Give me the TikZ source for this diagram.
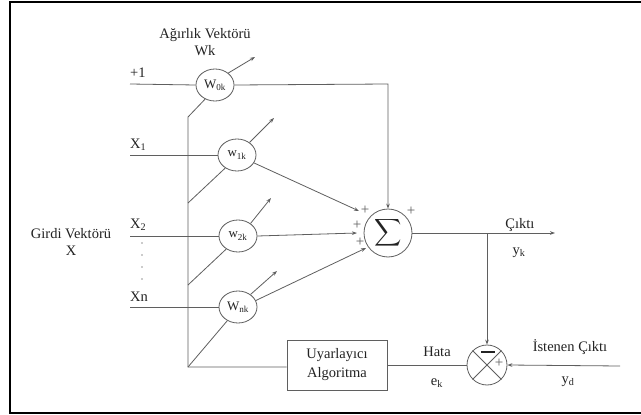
\documentclass[tikz,border=0pt]{standalone}
\usepackage{fontspec}
\setmainfont{Liberation Serif}
\usetikzlibrary{arrows.meta,shapes.geometric}
\definecolor{wire}{RGB}{95,95,95}
\definecolor{ink}{RGB}{35,35,35}
\tikzset{
  wire/.style={draw=wire,line width=0.8pt},
  arr/.style={wire,-{Stealth[length=5pt,width=3.6pt]}},
  weight/.style={ellipse,draw=wire,line width=0.8pt,minimum width=38pt,minimum height=32pt,inner sep=0pt,font=\fontsize{13}{13}\selectfont,text=ink},
  lbl/.style={font=\fontsize{14.5}{17}\selectfont,text=ink,inner sep=0pt},
  pl/.style={font=\fontsize{15}{15}\selectfont,text=wire,inner sep=0pt},
}
\begin{document}
\begin{tikzpicture}[x=1pt,y=-1pt]
\useasboundingbox (0,0) rectangle (641,415);
\fill[white] (0,0) rectangle (641,415);
% frame
\draw[line width=2.6pt,black] (645,2) -- (10,2) -- (10,413) -- (645,413);

% weight nodes
\node[weight] (w0) at (215,85) {W\textsubscript{0k}};
\node[weight] (w1) at (237,155) {w\textsubscript{1k}};
\node[weight] (w2) at (238,236) {w\textsubscript{2k}};
\node[weight] (wn) at (238,307) {W\textsubscript{nk}};

% summation and comparator
\node[circle,draw=wire,line width=0.8pt,minimum size=48pt,inner sep=0pt,text=ink] (sum) at (388,233) {\scalebox{1.9}{$\displaystyle\sum$}};
\node[circle,draw=wire,line width=0.8pt,minimum size=40pt,inner sep=0pt] (cmp) at (487,365) {};
\draw[wire] (cmp.45) -- (cmp.225) (cmp.135) -- (cmp.315);
\draw[ink,line width=2pt] (481,352) -- (495,352);
\node[pl] at (499,363) {+};

% adaptation box
\node[draw=wire,line width=0.8pt,minimum width=100pt,minimum height=50pt,align=center,font=\fontsize{14.5}{19}\selectfont,text=ink] (alg) at (337,365) {Uyarlayıcı\\Algoritma};

% input lines
\coordinate (i0) at (130,84);
\coordinate (i1) at (130,155);
\coordinate (i2) at (130,236);
\coordinate (in) at (130,307);
\draw[wire] (i0) -- (w0.west);
\draw[wire] (i1) -- (w1.west);
\draw[wire] (i2) -- (w2.west);
\draw[wire] (in) -- (wn.west);

% bus from the adaptation algorithm to the weights
\coordinate (b0) at (188,117);
\coordinate (b1) at (188,203);
\coordinate (b2) at (188,285);
\coordinate (bn) at (188,367);
\draw[wire] (alg.west |- bn) -- (bn) -- (b0) -- (w0.235);
\draw[wire] (b1) -- (w1.228);
\draw[wire] (b2) -- (w2.228);
\draw[wire] (bn) -- (wn.232);

% adjustment arrows on the weights
\coordinate (a0) at (255,57);
\coordinate (a1) at (274,118);
\coordinate (a2) at (271,198);
\coordinate (an) at (277,271);
\draw[arr] (w0.42) -- (a0);
\draw[arr] (w1.45) -- (a1);
\draw[arr] (w2.45) -- (a2);
\draw[arr] (wn.45) -- (an);

% weighted signals into the summation
\coordinate (t0) at (388,84);
\coordinate (s1) at (359,211);
\coordinate (s2) at (357,233);
\coordinate (sn) at (366,248);
\draw[arr] (w0.east) -- (t0) -- (sum.north);
\draw[arr] (w1.-25) -- (s1);
\draw[arr] (w2.east) -- (s2);
\draw[arr] (wn.20) -- (sn);

% plus signs at the summation
\node[pl] at (365,210) {+};
\node[pl] at (357,225) {+};
\node[pl] at (360,242) {+};
\node[pl] at (411,211) {+};

% output and error path
\coordinate (out) at (555,233);
\coordinate (tap) at (487,233);
\coordinate (yd) at (620,366);
\draw[arr] (sum.east) -- (out);
\draw[arr] (tap) -- (cmp.north);
\draw[arr] (yd) -- (cmp.east);
\draw[wire] (cmp.west) -- (alg.east |- cmp.west);

% labels
\node[lbl,align=center] (lw) at (205,42) {Ağırlık Vektörü\\Wk};
\node[lbl,anchor=west] at (130,73) {+1};
\node[lbl,anchor=west] at (130,145) {X\textsubscript{1}};
\node[lbl,anchor=west] at (130,225) {X\textsubscript{2}};
\node[lbl,anchor=west] at (130,297) {Xn};
\foreach \yy in {243,255,267,279} \fill[ink] (142,\yy) circle (0.7pt);
\node[lbl,align=center] at (71,242) {Girdi Vektörü\\X};
\node[lbl] at (520,225) {Çıktı};
\node[lbl] at (519,253) {y\textsubscript{k}};
\node[lbl] at (437,352) {Hata};
\node[lbl] at (437,383) {e\textsubscript{k}};
\node[lbl] at (570,347) {İstenen Çıktı};
\node[lbl] at (568,382) {y\textsubscript{d}};
\end{tikzpicture}
\end{document}
